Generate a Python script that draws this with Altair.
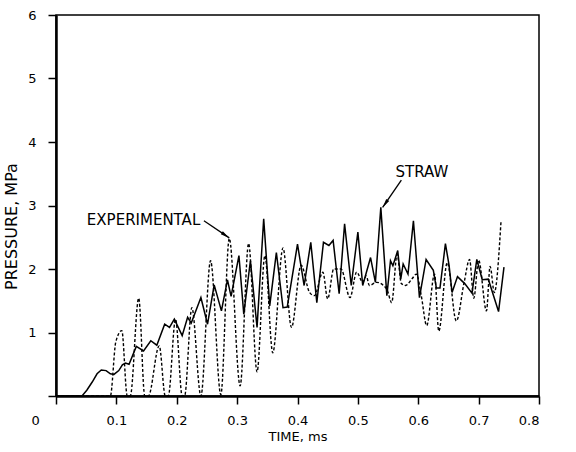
import math
import altair as alt
import pandas as pd

# ---- data ----
straw_t = [0, 0.043, 0.051, 0.060, 0.068, 0.075, 0.083, 0.090, 0.096, 0.104, 0.110, 0.115, 0.121,
           0.133, 0.145, 0.157, 0.167, 0.180, 0.188, 0.196, 0.209, 0.218, 0.224, 0.240, 0.251,
           0.262, 0.274, 0.284, 0.290, 0.303, 0.311, 0.322, 0.333, 0.344, 0.354, 0.365, 0.376,
           0.383, 0.400, 0.411, 0.422, 0.432, 0.443, 0.452, 0.459, 0.469, 0.478, 0.489, 0.500,
           0.508, 0.521, 0.529, 0.538, 0.548, 0.554, 0.558, 0.566, 0.571, 0.575, 0.583, 0.592,
           0.602, 0.613, 0.625, 0.630, 0.636, 0.645, 0.651, 0.656, 0.665, 0.677, 0.689, 0.697,
           0.706, 0.716, 0.733, 0.742]
straw_p = [0, 0, 0.09, 0.22, 0.35, 0.41, 0.40, 0.35, 0.34, 0.40, 0.49, 0.52, 0.50,
           0.78, 0.71, 0.87, 0.80, 1.13, 1.08, 1.21, 0.95, 1.24, 1.15, 1.55, 1.13,
           1.75, 1.34, 1.83, 1.57, 2.21, 1.29, 2.13, 1.08, 2.79, 1.42, 2.26, 1.39,
           1.40, 2.39, 1.74, 2.42, 1.47, 2.42, 2.37, 2.45, 1.61, 2.71, 1.74, 2.58,
           1.74, 2.18, 1.79, 2.97, 1.58, 2.13, 2.05, 2.29, 1.84, 2.08, 1.92, 2.76,
           1.55, 2.15, 1.98, 1.70, 1.70, 2.40, 2.06, 1.63, 1.88, 1.77, 1.62, 2.15,
           1.83, 1.84, 1.33, 2.03]

exp_t = [0, 0.090, 0.099, 0.109, 0.118, 0.123, 0.137, 0.147, 0.153, 0.171, 0.181, 0.186,
         0.198, 0.209, 0.213, 0.225, 0.240, 0.256, 0.273, 0.287, 0.305, 0.319, 0.333, 0.346,
         0.359, 0.376, 0.390, 0.406, 0.420, 0.428, 0.442, 0.450, 0.460, 0.472, 0.487, 0.498,
         0.508, 0.514, 0.519, 0.531, 0.548, 0.556, 0.565, 0.572, 0.579, 0.590, 0.597, 0.605,
         0.614, 0.627, 0.634, 0.648, 0.663, 0.676, 0.685, 0.692, 0.700, 0.713, 0.719, 0.726,
         0.737]
exp_p = [0, 0, 0.85, 1.03, 0, 0, 1.54, 0, 0, 0.79, 0, 0,
         1.21, 0, 0, 1.39, 0, 2.13, 0.02, 2.48, 0.16, 2.40, 0.38, 2.21,
         0.68, 2.33, 1.08, 2.06, 1.63, 1.58, 1.95, 1.53, 2.00, 2.00, 1.55, 1.95,
         1.79, 1.89, 1.74, 1.79, 1.68, 1.47, 2.23, 1.77, 1.74, 1.85, 1.92, 1.58,
         1.11, 1.92, 1.02, 2.10, 1.18, 1.79, 2.15, 1.54, 2.14, 1.34, 2.04, 1.63,
         2.74]

x_ticks = [0, 0.1, 0.2, 0.3, 0.4, 0.5, 0.6, 0.7, 0.8]
y_ticks = [0, 1, 2, 3, 4, 5, 6]

label_text = ["EXPERIMENTAL", "STRAW"]
label_t = [0.145, 0.606]
label_p = [2.77, 3.53]
arrow_t0 = [0.245, 0.572]
arrow_p0 = [2.76, 3.40]
arrow_t1 = [0.287, 0.541]
arrow_p1 = [2.49, 2.97]

# ---- layout ----
W, H = 483, 381
X_MAX, Y_MAX = 0.8, 6
PX_T = W / X_MAX
PX_P = H / Y_MAX
HEAD_SIZE = 90

solid_df = pd.DataFrame({"t": straw_t, "p": straw_p})
dash_df = pd.DataFrame({"t": exp_t, "p": exp_p})

seg_rows, head_rows = [], []
for i in range(len(label_text)):
    seg_rows.append({"id": i, "o": 0, "t": arrow_t0[i], "p": arrow_p0[i]})
    seg_rows.append({"id": i, "o": 1, "t": arrow_t1[i], "p": arrow_p1[i]})
    dx = (arrow_t1[i] - arrow_t0[i]) * PX_T
    dy = -(arrow_p1[i] - arrow_p0[i]) * PX_P
    L = math.hypot(dx, dy)
    back = math.sqrt(HEAD_SIZE) / 2
    head_rows.append({
        "t": arrow_t1[i] - (dx / L) * back / PX_T,
        "p": arrow_p1[i] + (dy / L) * back / PX_P,
        "ang": math.degrees(math.atan2(dx, -dy)) % 360,
    })
seg_df = pd.DataFrame(seg_rows)
head_df = pd.DataFrame(head_rows)
text_df = pd.DataFrame({"t": label_t, "p": label_p, "txt": label_text})

xscale = alt.Scale(domain=[0, X_MAX], nice=False)
yscale = alt.Scale(domain=[0, Y_MAX], nice=False)

x_axis = alt.Axis(
    values=x_ticks, title="TIME, ms", grid=False,
    labelExpr="datum.value == 0 ? '0' : format(datum.value, '.1f')",
    labelOffset={"condition": {"test": "datum.value == 0", "value": -25}, "value": 0},
    tickSize=8, labelPadding=10, titlePadding=3, domainWidth=2.5,
)
y_axis = alt.Axis(
    values=y_ticks, title="PRESSURE, MPa", grid=False,
    labelExpr="datum.value == 0 ? '' : format(datum.value, 'd')",
    tickSize=8, labelPadding=12, domainWidth=2.5,
    titleX=-37, titleY=211, titleAlign="center", titleBaseline="bottom",
    titleFontSize=16,
)

X = alt.X("t:Q", scale=xscale, axis=x_axis)
Y = alt.Y("p:Q", scale=yscale, axis=y_axis)

solid = alt.Chart(solid_df).mark_line(color="black", strokeWidth=1.5).encode(
    x=X, y=Y, order="t:Q")
dashed = alt.Chart(dash_df).mark_line(
    color="black", strokeWidth=1.4, strokeDash=[3, 2], interpolate="monotone"
).encode(x=alt.X("t:Q", scale=xscale), y=alt.Y("p:Q", scale=yscale), order="t:Q")

arrows = alt.Chart(seg_df).mark_line(color="black", strokeWidth=1.3).encode(
    x=alt.X("t:Q", scale=xscale), y=alt.Y("p:Q", scale=yscale),
    detail="id:N", order="o:Q")
heads = alt.Chart(head_df).mark_point(
    shape="M0,-1L0.38,0.9L-0.38,0.9Z", filled=True, color="black", opacity=1, size=HEAD_SIZE
).encode(x=alt.X("t:Q", scale=xscale), y=alt.Y("p:Q", scale=yscale),
         angle=alt.Angle("ang:Q", scale=None))
texts = alt.Chart(text_df).mark_text(
    font="DejaVu Sans", fontSize=15, color="black", align="center", baseline="middle"
).encode(x=alt.X("t:Q", scale=xscale), y=alt.Y("p:Q", scale=yscale), text="txt:N")

chart = alt.layer(solid, dashed, arrows, heads, texts).properties(
    width=W, height=H,
    autosize=alt.AutoSizeParams(type="none"),
    padding={"left": 56, "top": 15, "right": 37, "bottom": 56},
    background="white",
).configure_view(
    stroke="black", strokeWidth=1.5
).configure_axis(
    domainColor="black", tickColor="black", tickWidth=1.5,
    labelColor="black", titleColor="black",
    labelFont="DejaVu Sans", titleFont="DejaVu Sans",
    labelFontSize=13, titleFontSize=13, titleFontWeight="normal",
)

chart.save("out.html", embed_options={"renderer": "svg", "actions": False})
